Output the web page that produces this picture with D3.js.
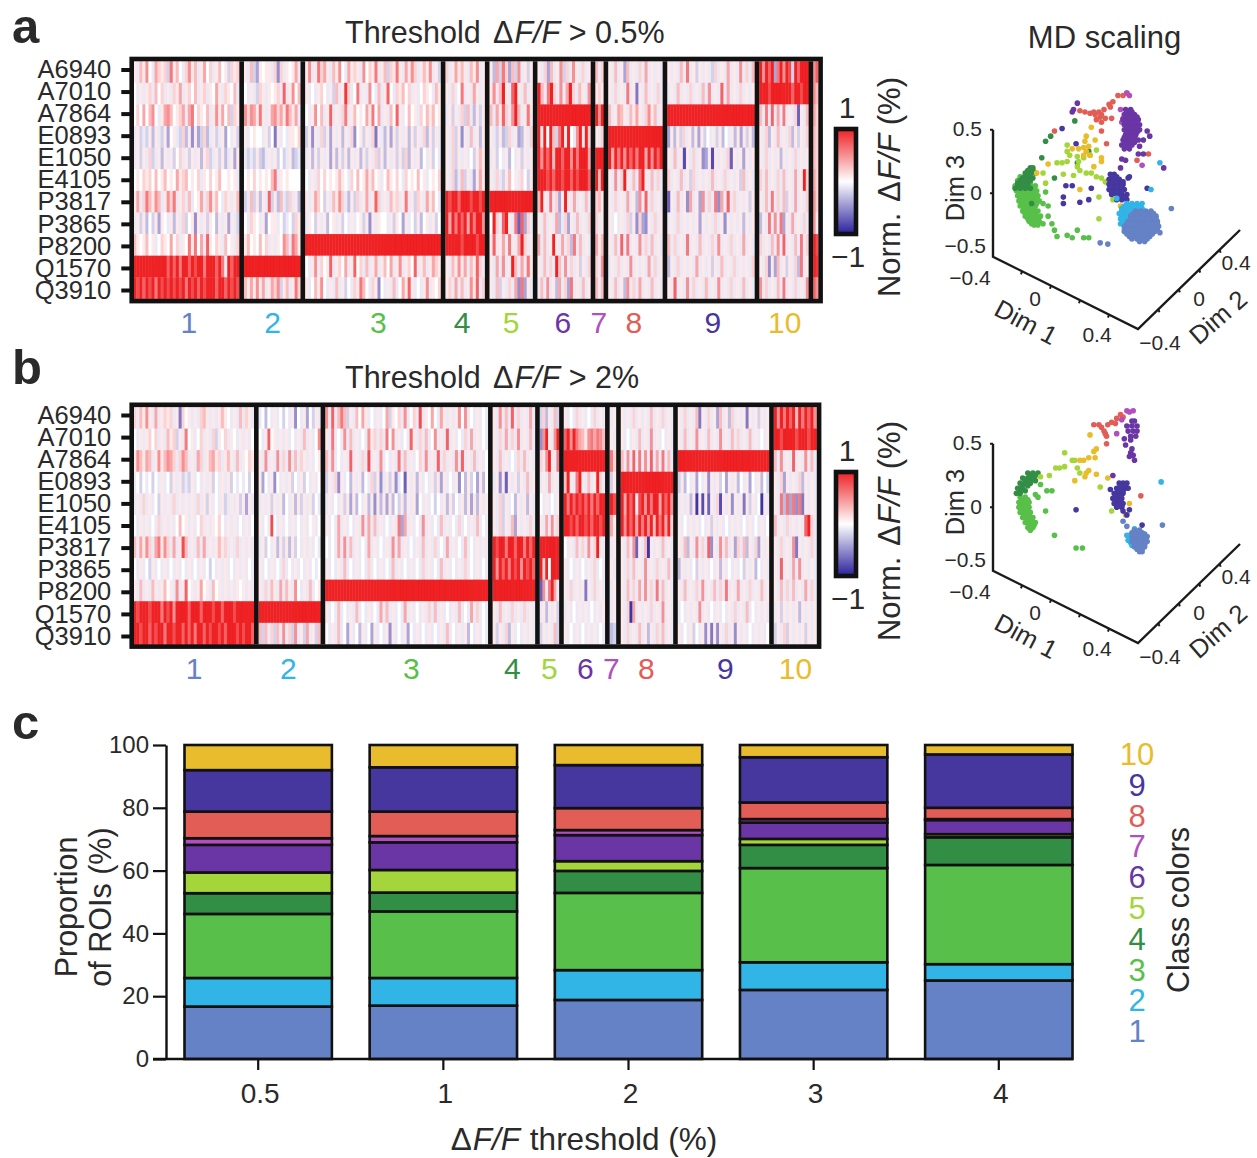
<!DOCTYPE html>
<html>
<head>
<meta charset="utf-8">
<script src="https://cdn.jsdelivr.net/npm/d3@7"></script>
<style>
  html, body { margin: 0; padding: 0; background: #fff; }
  svg { display: block; }
  text { font-family: "Liberation Sans", Arial, sans-serif; fill: #2a2a2a; }
</style>
</head>
<body>
<div id="wrapper"></div>
<script>
const rowLabels = ["A6940", "A7010", "A7864", "E0893", "E1050", "E4105", "P3817", "P3865", "P8200", "Q1570", "Q3910"]
const classNames = ["1", "2", "3", "4", "5", "6", "7", "8", "9", "10"]
const classColors = ["#6582c6", "#30b5e6", "#58c04a", "#328e45", "#a4d53a", "#6a35a4", "#b050c0", "#e25d56", "#46379f", "#e8bc2c"]

// heat cells, one string per row: 1-9 and R = +0.1..+1, a-i = -0.1..-0.9, 0 = white
const classWidthsA = [35.4, 18.9, 45.3, 13.2, 14.5, 17.8, 2.8, 18.2, 29.2, 16.5, 1.6]
const classWidthsB = [40.25, 20.7, 54.3, 14.2, 6.5, 13.8, 2.2, 17.5, 30.5, 14.25]

const heatA = [
  ["1a3150a4212b6130a2513a1402a1301b212", "0a1a12a302a1a214a1203a12a1041a2103a", "02040350a14530124a4602103a151403b21", "a1bab1c1ab1d01ab2c1e1db2ca1ba1d0a1b", "a1b1a2ba1c1a1b02a1b1a1c12ba1b1ca1d1", "0102120301301041230102a10201300101a", "14a263153a1526a12a3a014a25130a21a13", "a1b1c0b1d10a1c1a2b01e1a1b10c1a1d1ab", "3101301a0210402a1061604a71021a301a2", "RRRRRRRRRRR7R7R6RR7R8RR6RRR7R6aR7RR", "R8R7R8R6R8R8R8R8R6R8R7R8RRR7RR7R8R8"],
  ["1a3bd1011a2e2a1014a", "0a1ab21a1012a7a1503", "5254161a1452416314a", "1a0100a1b0f1a0a1102", "abab1bca1a1b0ba1cba", "01020101036a1010000", "ba3b1c1a7b1c3ab2a1c", "0a210a1d011a0ba0b21", "13010302a1a1053a641", "RRRRRRRRRRRRRRRRRRR", "3141514a1425b13a162"],
  ["15a16241a3150a4121a50216a13b2161a4152a1315a1b", "1a0a120a1b3a192a06a1a50a3a170a21302a1a0210a31", "0a1503a17a1a26a1301041604a1a3071a0301a2031301", "b1e1a2b1d1a1c1a2e01b1a2f1ac1d1b1a1c1b1a2c1b1a", "a1c1b1a1d1c1b1c1a1c1b1a2b1c1a1b1b2c1a1c0a1b0a", "0a1a2020101310a2030141301a031020a2010301a0102", "1a1420b1a3152ac1b2a14a172a1a312a16a1b21a4130a", "a10b1a1c01a1b0a1a01b1e1a100a1b10d1a0b1c01a1b0", "RRRRRRRRRRRRRRRRRRRRRRRRRRRRRRRRRRRRRRRRRRRRR", "0a15a2017a1204a1702a3a14a1304a15a1207a13a1421", "1a03150a1a3a1b0a21630a21e0a1a3a04171a0a15a102"],
  ["2a14131a315a1", "1a2a06a1a41a1", "a1b1a2b3ac1b1", "1a2b1e1a3a1c1", "1a2b1a1a0b131", "1a2ca3b1ad141", "R8RR7RRR8RR8R", "R4R6R7R4R6RR5", "RRRRR8RRRR8RR", "1a31514a3172a", "12a4a3a1517a2"],
  ["1c4b62d3b5a1b1", "15a3R1a7R1a3a1", "3a4172a5R3a161", "1ab1cb2a1dc1a2", "a1b0a1c0a1b1a1", "1a2ab1301a20b1", "RRRRRRRRRRRRRR", "0R2a7R1a6g7d2a", "17a14a61a4R2a1", "1a4a5a1R3a4a61", "1a3b1a2a4e6d1a"],
  ["1a2d3a15b2a51a2a1", "R3a6R2a5a4R2a31a5", "RRRRRRRRRRRRRRRRRR", "R1R0R3b6R1R0a5R1R2", "R5R7R3RR7RR5R6RRR4", "RRR8R7RR8RR7R8RRR7", "3R1a6a2d1R1a4a1a3a", "1a3a1a4ca2d1a3a1a2", "4a3a1R1a4a2c6a3a1a", "1a3a2aR3a5a2a1b1a2", "a3a5a1c4a2d6a1a3a1"],
  ["3a2", "121", "R5R", "1a2", "RRR", "R3R", "231", "2a1", "413", "2a5", "3a3"],
  ["1a3a1d3a1a2a4a1a1a", "1a2a1a6a1f1a3a1a2a", "3a1431a3141a2513a1", "RRRRRRRRRRRRRRRRRR", "R4R6R5R7R6RR4R5R7R", "1a5a2R1a3a6R1a3a2a", "1a2a1a4a1c5a7a2a1a", "1a0a1a2b1e2de1a2a1", "1a3a7a6a1a5a2a3a1a", "a1a2a1a5a1a1a4a2a1", "1a3a1c5a2a4a1a3a1a"],
  ["1a1a3a6a1b1a1ab2a1a4a1a5a2a3", "a1a3a1a2a1a3a5a1a7a4a1a2a1a1", "RRRRRRRRRRRRRRRRRRRRRRRRRRRRR", "d1c1b2a1c1d1b0a1b1c0a1c1d1b1c", "1a3a1h1a2a1ed1h1a1a2g1a1d1a1", "2a1a3a1b2a1a1a3a1a2a1a1b3a1a", "g1a3a1e4a1d5a2a6e4a7a2a1a1b1", "a1a2a1a1a1d1a1a2a1e1a1a1c1a1", "3a2a1a6a1a3a1a2a5a1a2a1a4a1a", "c1a2a1a1a4a1a1b1a3a1a2a1a1a2", "1a7a1a5a2a1a3a1a5a1a2a1a3a1a"],
  ["R5R7Rd6R5R8bR7RRR", "RRR8RRRRRRR7RR8RR", "3a6a7a4a6a1a2g1a3", "1a2c1a3a1a2c1b1a2", "1a2a1a1c1a1a2a1a1", "2a3a1a2a3a1a4a1R2", "1a3a6a2a3b1a4a1a2", "c1a6a5a6d1a4a1a2a", "2a1a3a5a7a1a3a6a2", "1a2e1d3a1b1a2c6a1", "5a2a1a3a6a1a2a1a5"],
  ["57", "53", "42", "32", "32", "42", "52", "51", "R8", "R9", "75"],
]

const heatB = [
  ["2a3151a4a1212a1f201a1a231a1a1310a1a3a21a", "0a1a1202a1a312b1a601a02a1a2b102a10a1a1a0", "153143a1513542a253a1a42a13412a131a3a1021", "a0b0a0b0a1a0b1a1bab1a0a1a1b0a1a1b0a0a0b0", "a1a2a1a0b1a1a2a1a1a1a2a1b1a0a1ba1a1b1d1a", "0a1a1a0a2a1a1a0301a1a02a1a1020a1a1a0a1a0", "3a4152a46152a4a183a1a3a4a1a1312a1a2a1a1a", "0a1a0b1a0a1a0a1a0a1a0a1a0b0a1a1a0a1a1a0a", "1a3a1a31a1301a5a1701a1401a301a1a1a101a1a", "R8RRR8RRR6R8R5RRRR7RRR7RRR8RR7RRR8RRRRRR", "RR8RR7R8RR6RR8RR7R7R6RR7R8RR8R7RRR8R8RR7"],
  ["a0c0a1a0b0a1e0a1d0b1a", "0a1701a1a1a0a1a3a1a05", "1a5a1a5a2a5a3a21a1a01", "1d0a1e0a1a1b0a1b0a1a0", "a1a1b1a1c0a1c1b1a1b0a", "1a0a80a1a0a1a0a1a01a0", "a1b0a1c1b1c1b0a1a1a0a", "1a0a1a0a2a0a1a0a1a0a0", "1a2a31a4a31a50a1a3a01", "RRRRRRRRRRRRRRRRRRRRR", "3b3a2b3a5a2b5a1b4a1b3"],
  ["5a7a363b1a3041a0a1a04b102a5a02a8a1040a41a1a1505a0a1a0a", "1a6a0a5a3a1a0a512a2a605a1a0a71a2a3a05a1a7a1a0a2a4a1a0a", "3a5a0a1a7a1a2a8a1a5a0a1a6a3a1a02a5a1a7a2a1a5a7a1a3a1a0", "b1a2e1a0c1a1c0a2b1ea1b1ea0g1a1c1a0a1b1d1a0a1e0c1b0d1c0", "a1a0a1b1d1c0a1c1e1c1d1c0b1c1a1d0a1a0b0a1c1b0a1c1d1c1a1", "1a0a4a1a0a1a5a4a3a1a0a1a6d4a1a0a5a1a0a3a1a0a2a0a1a3a0a", "0a0a4a5a3a1a0a4a1a0a1a5a4a1a0a1a3a1a2a0a4a1a0a3a0a1a1a", "1a0a1a3a0a1a0a2a0a1a0a3a1a0a1a0a2a1a0a3a1a0a1a2a0a1a0a", "RRRRRRRRRRRRRRRRRRRRRRRRRRRRRRRRRRRRRRRRRRRRRRRRRRRRRR", "1a0a3a0a1a3a0a1a0a4a3a1a0a4a1a0a1a2a3a1a0a1a3a0a4a2a0a", "0a1a3a0d1a0c1a0d1a0a1e1a0a1d0a1a0a1a0a1a3a0a1a1c0a1a0a"],
  ["1a5a3a7a2a1a4a", "1a2a4a2a5a1a3a", "1a3a1a0a2a3a1a", "a1e1g1a1b1a3a1", "1a2b1a0c1a1c1a", "1a2b1a3d1a1a2a", "R8RR6RR7RR6R7R", "R5R7R6R8R5R8R7", "RRRRRRRRRRRRRR", "1a3a1a2a1a2a1a", "1b1a2c1a0a1a1a"],
  ["b2c1a3b", "e5R1a5R", "2a5R1a6", "a1a4a1a", "0a1a0a1", "1a4a5a2", "RRRRRRR", "R2R0RRR", "g5a6R4a", "a1c1a1b", "b1a1a3b"],
  ["1a0a2a1a0a2a1a", "7R5R6431564653", "RRRRRRRRRRRRRR", "3R1a6R1a3a1R2a", "R6R7R8R7R6R7RR", "RR8R7RR8R7RR8R", "0a1a3a2a5a2R1a", "1a0a1a0a1a2a0a", "1a2a1a1f1a2a1a", "a1a0a1a1a0a1a1", "1a0a1a0a1a1a0a"],
  ["a1", "1a", "62", "b1", "R8", "41", "a1", "1a", "a1", "a1", "cb"],
  ["1a1a2a1a1a3a1a2a1a", "1a0a1a3a1a5a1a0a1a", "3a5a7a6a5a7a4a6a3a", "RRRRRRRRRRRRRRRRRR", "R4R7Ra8R5R6RR4R7R5", "R5R7R4R6R5R3R6R4R2", "1a3a5g1a3i1a1a3a1a", "1a2a3a1a5a1a2a1a3a", "1a3a2a4a5a2a6a3a1a", "1a2i4a1a1a2a1a5a1a", "1a2a1a3a1c1a2a3a1a"],
  ["1a2a1a3f1a2a1d3a1c2a1a1f1a1b1a1", "1a3a1a5a1a3a1a5a1a3a2a1a3a1a0a1", "RRRRRRRRRRRRRRRRRRRRRRRRRRRRRRR", "b1c0a1d0a1e1a1b0d1a1c0a1d0a1c0b", "a1a1c1i1h1g1a2h1a1e1a1f1b1a0i1a", "1a0a1a1a0a1b1a1a0a1a1a0a1a0a1a0", "1a3c1a5a2a7e1a5a3a1d2a3c1a2d1a1", "c1a1a0b1a1a0a1c1a0a1a0b1a1c0a1a", "1a3a1a2a5a1a3a2a6a1a4a1a2a1a3a1", "a0a1a1a5a1a0a1a0a1a2a1a3a0a1a1a", "1a0a1b0a1e1f1e1a2a1e1a1a0a1a1a0"],
  ["R5R6R7R3R6R7R5", "RR8RRRR8RRR8RR", "3a5a1a7a1a5a3a", "1a2d1a1a2c1a1a", "1a6c6d6e6f1a1a", "3a1a2a1a1a7R2a", "1a2a1a5f1a1a2a", "1a7a1a4a5a1a1a", "1a3a2a3a1a4a2a", "a1b1a1a1c1a1a1", "b1a2b1a1a1b1a1"],
]

// class label centres, in heat columns from the left edge
const labelColsA = [18.5, 46.5, 81.7, 109.7, 126, 143.3, 155.3, 167, 193.3, 217.3]
const labelColsB = [20.3, 51.7, 92.7, 126.3, 138.7, 150.7, 159.3, 171, 197.3, 220.7]

// MD scaling points: [horizontal, Dim 3]
const mdsA = [
  [[.15,-.14],[.19,-.14],[.23,-.14],[.27,-.14],[.11,-.18],[.15,-.18],[.19,-.18],[.23,-.18],[.27,-.18],[.31,-.18],[.09,-.22],[.13,-.22],[.17,-.22],[.21,-.22],[.25,-.22],[.29,-.22],[.32,-.22],[.06,-.26],[.10,-.26],[.14,-.26],[.18,-.26],[.22,-.26],[.26,-.26],[.30,-.26],[.33,-.26],[.06,-.30],[.10,-.30],[.14,-.30],[.18,-.30],[.22,-.30],[.26,-.30],[.30,-.30],[.10,-.34],[.14,-.34],[.18,-.34],[.22,-.34],[.26,-.34],[.18,-.38],[.22,-.38],[.34,-.31],[.43,-.12],[-.13,-.39],[-.07,-.40],
   [.13,-.16],[.17,-.16],[.21,-.16],[.25,-.16],[.29,-.16],[.11,-.20],[.15,-.20],[.19,-.20],[.23,-.20],[.27,-.20],[.31,-.20],[.08,-.24],[.12,-.24],[.16,-.24],[.20,-.24],[.24,-.24],[.28,-.24],[.32,-.24],[.08,-.28],[.12,-.28],[.16,-.28],[.20,-.28],[.24,-.28],[.28,-.28],[.32,-.28],[.08,-.32],[.12,-.32],[.16,-.32],[.20,-.32],[.24,-.32],[.28,-.32],[.12,-.36],[.16,-.36],[.20,-.36],[.24,-.36]],
  [[.08,-.08],[.12,-.08],[.16,-.08],[.20,-.08],[.04,-.12],[.08,-.12],[.12,-.12],[.16,-.12],[.20,-.12],[.02,-.16],[.06,-.16],[.10,-.16],[.14,-.16],[.03,-.20],[.07,-.20],[.11,-.20],[.03,-.24],[.07,-.24],[.11,-.24],[.06,-.28],[.10,-.28],[.34,.24],[.27,.03],[0,-.04],
   [.06,-.10],[.10,-.10],[.14,-.10],[.18,-.10],[.04,-.14],[.08,-.14],[.12,-.14],[.16,-.14],[.04,-.18],[.08,-.18],[.12,-.18],[.05,-.22],[.09,-.22]],
  [[-.78,.10],[-.74,.10],[-.70,.10],[-.80,.06],[-.76,.06],[-.72,.06],[-.68,.06],[-.64,.06],[-.79,.02],[-.75,.02],[-.71,.02],[-.67,.02],[-.63,.02],[-.78,-.02],[-.74,-.02],[-.70,-.02],[-.66,-.02],[-.62,-.02],[-.77,-.06],[-.73,-.06],[-.69,-.06],[-.65,-.06],[-.61,-.06],[-.76,-.10],[-.72,-.10],[-.68,-.10],[-.64,-.10],[-.74,-.14],[-.70,-.14],[-.66,-.14],[-.62,-.14],[-.72,-.18],[-.68,-.18],[-.64,-.18],[-.60,-.18],[-.69,-.22],[-.65,-.22],[-.61,-.22],[-.65,-.25],[-.62,-.25],[-.58,-.08],[-.54,-.10],[-.56,.01],[-.54,-.18],[-.51,-.24],[-.49,-.29],[-.47,-.34],[-.39,-.33],[-.31,-.29],[-.35,-.35],[-.26,-.35],[-.22,-.35],[-.58,-.24],
   [-.76,.13],[-.72,.13],[-.76,.08],[-.72,.08],[-.68,.08],[-.78,.04],[-.74,.04],[-.70,.04],[-.66,.04],[-.77,0],[-.73,0],[-.69,0],[-.65,0],[-.76,-.04],[-.72,-.04],[-.68,-.04],[-.64,-.04],[-.75,-.08],[-.71,-.08],[-.67,-.08],[-.63,-.08],[-.73,-.12],[-.69,-.12],[-.65,-.12],[-.72,-.16],[-.68,-.16],[-.64,-.16],[-.70,-.20],[-.66,-.20],[-.62,-.20],[-.67,-.24],[-.63,-.24]],
  [[-.68,.20],[-.66,.20],[-.72,.16],[-.68,.16],[-.64,.16],[-.74,.12],[-.70,.12],[-.66,.12],[-.78,.08],[-.74,.08],[-.70,.08],[-.80,.04],[-.76,.04],[-.72,.04],[-.68,.04],[-.67,-.08],[-.59,.28],[-.49,.12],[-.56,.41],[-.52,.45],[-.22,.33],[-.31,.24],[-.33,.57],
   [-.70,.18],[-.66,.18],[-.72,.14],[-.68,.14],[-.76,.10],[-.72,.10],[-.68,.10],[-.78,.06],[-.74,.06],[-.70,.06]],
  [[-.39,.33],[-.37,.30],[-.47,.24],[-.43,.24],[-.39,.25],[-.31,.29],[-.26,.28],[-.21,.30],[-.16,.34],[-.31,.21],[-.34,.14],[-.29,.18],[-.30,.25],[-.24,.16],[-.20,.16],[-.16,.13],[-.12,.12],[-.09,.09],[-.58,.16],[-.56,.08],[-.42,.15],[-.14,-.03],[-.14,-.20],[-.39,.38],[0,.01],[-.03,-.05],[.03,0]],
  [[.07,.66],[.11,.66],[.06,.62],[.10,.62],[.14,.62],[.05,.58],[.09,.58],[.13,.58],[.17,.58],[.06,.54],[.10,.54],[.14,.54],[.18,.54],[.06,.50],[.10,.50],[.14,.50],[.18,.50],[.07,.46],[.11,.46],[.15,.46],[.05,.42],[.09,.42],[.13,.42],[.17,.42],[.04,.38],[.08,.38],[.12,.38],[.06,.35],[.10,.35],[-.31,.71],[-.34,.66],[-.35,.64],[.24,.49],[.26,.45],[.21,.42],[.17,.31],[.21,.31],[.37,.20],[.18,.37],[.04,.27],[.07,.26],[.03,.20],
   [.08,.64],[.12,.64],[.08,.60],[.12,.60],[.16,.60],[.07,.56],[.11,.56],[.15,.56],[.08,.52],[.12,.52],[.16,.52],[.08,.48],[.12,.48],[.16,.48],[.06,.44],[.10,.44],[.14,.44],[.06,.40],[.10,.40],[.14,.40]],
  [[.03,.66],[.05,.59],[.13,.54],[.16,.49],[.08,.79],[.10,.77],[.20,.22],[.04,.56]],
  [[-.29,.65],[-.25,.64],[-.21,.63],[-.17,.62],[-.13,.60],[-.18,.64],[-.14,.64],[-.10,.66],[-.06,.70],[-.03,.72],[.01,.77],[.05,.77],[.08,.79],[-.16,.58],[-.12,.56],[-.09,.59],[-.05,.68],[-.12,.62],[-.49,.49],[-.08,.39],[.16,.26],[.25,.31],[-.12,.49],[-.04,.59]],
  [[-.05,.15],[-.02,.15],[-.06,.11],[-.02,.11],[.02,.11],[-.06,.07],[-.02,.07],[.02,.07],[.05,.07],[-.06,.03],[-.02,.03],[.02,.03],[.06,.03],[-.04,-.01],[0,-.01],[.04,-.01],[.08,-.01],[0,-.05],[.04,-.05],[.08,-.05],[-.42,-.03],[-.42,-.08],[-.40,.06],[-.35,.06],[-.29,-.07],[-.22,-.05],[-.20,.04],[.09,.12],[.24,.04],[.05,.09],[.10,.13],[.05,-.12],[-.43,.51],[-.32,.39],
   [-.04,.13],[0,.13],[-.04,.09],[0,.09],[.04,.09],[-.04,.05],[0,.05],[.04,.05],[-.04,.01],[0,.01],[.04,.01],[.02,-.03],[.06,-.03]],
  [[-.24,.45],[-.25,.41],[-.26,.36],[-.30,.35],[-.35,.35],[-.24,.33],[-.21,.30],[-.26,.30],[-.54,.23],[-.12,.25],[-.17,.42],[-.20,.52],[-.63,.16],[-.29,.03],[-.18,.21],[-.12,.28],[.03,-.10],[-.22,.37]],
]
const mdsB = [
  [[.12,-.20],[.16,-.20],[.20,-.20],[.12,-.23],[.16,-.23],[.20,-.23],[.24,-.23],[.12,-.27],[.16,-.27],[.20,-.27],[.24,-.27],[.14,-.31],[.18,-.31],[.22,-.31],[.18,-.35],[.20,-.35],[.05,-.11],[.08,-.15],[.36,-.14],
   [.14,-.18],[.18,-.18],[.14,-.21],[.18,-.21],[.22,-.21],[.14,-.25],[.18,-.25],[.22,-.25],[.14,-.29],[.18,-.29],[.22,-.29],[.16,-.33],[.20,-.33]],
  [[.14,-.17],[.10,-.22],[.14,-.22],[.10,-.26],[.13,-.26],[.12,-.30],[.15,-.30],[.35,.20],[.09,-.26],[.12,-.24],[.11,-.28],[.08,-.22]],
  [[-.76,.08],[-.72,.08],[-.77,.04],[-.73,.04],[-.69,.04],[-.77,0],[-.73,0],[-.69,0],[-.76,-.04],[-.72,-.04],[-.68,-.04],[-.74,-.08],[-.70,-.08],[-.66,-.08],[-.72,-.12],[-.68,-.12],[-.64,-.12],[-.70,-.16],[-.66,-.16],[-.68,-.18],[-.76,.14],[-.75,.18],[-.64,.10],[-.62,.08],[-.55,.13],[-.51,.13],[-.56,-.03],[-.49,-.22],[-.32,-.32],[-.27,-.32],[-.60,.18],
   [-.74,.06],[-.70,.06],[-.75,.02],[-.71,.02],[-.74,-.02],[-.70,-.02],[-.73,-.06],[-.69,-.06],[-.71,-.10],[-.67,-.10],[-.69,-.14],[-.65,-.14]],
  [[-.70,.27],[-.66,.27],[-.62,.27],[-.74,.23],[-.70,.23],[-.66,.23],[-.76,.19],[-.72,.19],[-.68,.19],[-.78,.15],[-.74,.15],[-.79,.11],[-.76,.11],
   [-.68,.25],[-.64,.25],[-.72,.21],[-.68,.21],[-.64,.21],[-.74,.17],[-.70,.17],[-.76,.13],[-.72,.13]],
  [[-.48,.31],[-.45,.31],[-.41,.32],[-.41,.43],[-.35,.37],[-.33,.37],[-.31,.31],[-.29,.27],[-.60,.24],[-.53,.25],[-.13,.16],[-.04,-.03]],
  [[.12,.68],[.14,.68],[.08,.64],[.12,.64],[.16,.64],[.09,.60],[.13,.60],[.16,.60],[.11,.56],[.15,.56],[.06,.54],[.11,.53],[.07,.49],[.12,.46],[.11,.43],[.13,.41],[.10,.40],[.14,.37],[-.03,.25]],
  [[.08,.76],[.13,.76],[.10,.75],[0,.58],[.04,.69]],
  [[-.18,.65],[-.14,.65],[-.12,.63],[-.09,.58],[-.07,.65],[-.04,.67],[0,.70],[.03,.73],[-.08,.56],[-.01,.66],[-.10,.60],[-.08,.50],[.19,.09],[.05,.71]],
  [[.02,.19],[.05,.19],[.08,.19],[0,.15],[.04,.15],[.07,.15],[.09,.15],[-.02,.11],[.02,.11],[.05,.11],[-.03,.07],[.01,.07],[.04,.07],[-.02,.03],[.02,.03],[.05,.03],[0,0],[.04,0],[-.32,-.02],[.05,-.03],[.10,-.02],[.08,-.06],[.20,-.14],[-.05,.14],
   [.03,.17],[.06,.17],[.01,.13],[.05,.13],[-.01,.09],[.03,.09],[-.01,.05],[.03,.05],[.01,.01],[.04,.01]],
  [[-.26,.37],[-.22,.39],[-.18,.44],[-.16,.46],[-.17,.39],[-.24,.27],[-.25,.24],[-.22,.29],[-.33,.21],[-.21,.57],[-.16,.26],[-.07,.23],[.10,.03],[.07,-.06],[-.29,.37]],
]
const mdsDrawOrder = [2, 3, 4, 9, 8, 7, 6, 5, 1, 0]

// stacked proportions per threshold, one array per class
const thresholds = ["0.5", "1", "2", "3", "4"]
const class1 = [16.7, 17, 18.8, 22, 25]
const class2 = [9.1, 8.8, 9.5, 8.8, 5.2]
const class3 = [20.4, 21.2, 24.6, 30, 31.6]
const class4 = [6.6, 6, 7, 7.4, 8.8]
const class5 = [6.6, 7.2, 3.1, 1.9, 1]
const class6 = [8.8, 8.8, 8.3, 5.2, 4.5]
const class7 = [2.1, 2, 1.6, 1.1, 0.3]
const class8 = [8.5, 7.8, 7, 5.3, 3.6]
const class9 = [13.2, 14.1, 13.7, 14.4, 17]
const class10 = [8, 7.1, 6.4, 3.9, 3]
const classSeries = [class1, class2, class3, class4, class5, class6, class7, class8, class9, class10]

const width = 1257
const height = 1158
const ink = "#111"

const wrapper = d3.select("#wrapper")
  .append("svg")
  .attr("width", width)
  .attr("height", height)

const defs = wrapper.append("defs")
defs.append("filter").attr("id", "soft")
  .append("feGaussianBlur").attr("stdDeviation", 0.45)

const heatColor = d3.scaleLinear()
  .domain([-1, 0, 1])
  .range(["#2a1f9c", "#ffffff", "#ee2024"])

const gradient = defs.append("linearGradient")
  .attr("id", "bar-gradient")
  .attr("x1", 0).attr("x2", 0).attr("y1", 1).attr("y2", 0)
gradient.selectAll("stop")
  .data(heatColor.domain())
  .join("stop")
  .attr("offset", (d, i) => `${i * 50}%`)
  .attr("stop-color", d => heatColor(d))

function cellValue(ch) {
  if (ch === "R") return 1
  if (ch >= "a" && ch <= "i") return -(ch.charCodeAt(0) - 96) / 10
  return +ch / 10
}

// appends "ΔF/F" with the italic F's into a text selection
function addDeltaF(text, gapBefore) {
  text.append("tspan").attr("dx", gapBefore).text("Δ")
  text.append("tspan").attr("font-style", "italic").attr("dx", 1).text("F/F")
}

function drawHeat(o) {
  const g = wrapper.append("g")
  const gap = 1.5
  const total = d3.sum(o.widths) + gap * (o.widths.length - 1)
  const x = d3.scaleLinear().domain([0, total]).range([o.left, o.right])
  const y = d3.scaleBand().domain(rowLabels).range([o.top, o.bottom])

  let start = 0
  const cells = g.append("g").attr("filter", "url(#soft)")
  o.heat.forEach((rows, c) => {
    const end = start + o.widths[c]
    rows.forEach((row, r) => {
      const col = d3.scaleBand()
        .domain(d3.range(row.length))
        .range([x(start), x(end)])
      cells.append("g")
        .selectAll("rect")
        .data(row.split(""))
        .join("rect")
        .attr("x", (d, i) => col(i))
        .attr("y", y(rowLabels[r]))
        .attr("width", col.bandwidth() + 0.4)
        .attr("height", y.bandwidth() + 0.4)
        .attr("fill", d => heatColor(cellValue(d)))
    })
    if (c < o.heat.length - 1) {
      g.append("line")
        .attr("x1", x(end + gap / 2))
        .attr("x2", x(end + gap / 2))
        .attr("y1", o.top)
        .attr("y2", o.bottom)
        .attr("stroke", ink)
        .attr("stroke-width", 4.6)
    }
    start = end + gap
  })

  g.append("rect")
    .attr("x", o.left - 1.6)
    .attr("y", o.top - 2.2)
    .attr("width", o.right - o.left + 4.2)
    .attr("height", o.bottom - o.top + 4.4)
    .attr("fill", "none")
    .attr("stroke", ink)
    .attr("stroke-width", 4.6)

  // the row ticks run a little wider than the rows in the original
  const tickY = d3.scalePoint().domain(rowLabels).range([o.tickTop, o.tickBottom])
  const yAxis = g.append("g")
    .attr("transform", `translate(${o.left - 3},0)`)
    .call(d3.axisLeft(tickY).tickSize(9).tickPadding(10))
  yAxis.select(".domain").remove()
  yAxis.selectAll("line").attr("stroke", ink).attr("stroke-width", 4)
  yAxis.selectAll("text").attr("font-size", 25.5).style("fill", "#2a2a2a")

  // class numbers
  g.selectAll(".class-label")
    .data(o.labelCols)
    .join("text")
    .attr("class", "class-label")
    .attr("x", d => x(d))
    .attr("y", o.labelY)
    .attr("text-anchor", "middle")
    .attr("dominant-baseline", "central")
    .attr("font-size", 30)
    .style("fill", (d, i) => classColors[i])
    .text((d, i) => classNames[i])

  // title
  const title = g.append("text")
    .attr("x", 345)
    .attr("y", o.titleY)
    .attr("font-size", 30.5)
    .attr("dominant-baseline", "central")
  title.append("tspan").text("Threshold ")
  addDeltaF(title, 4)
  title.append("tspan").text(` > ${o.threshold}%`)

  // panel letter
  g.append("text")
    .attr("x", 12)
    .attr("y", o.letterY)
    .attr("font-size", 49)
    .attr("font-weight", "bold")
    .text(o.letter)

  // colour bar
  const bar = d3.scaleLinear().domain([-1, 1]).range([o.barBottom, o.barTop])
  g.append("rect")
    .attr("x", 836)
    .attr("y", bar(1))
    .attr("width", 20)
    .attr("height", bar(-1) - bar(1))
    .attr("fill", "url(#bar-gradient)")
    .attr("stroke", ink)
    .attr("stroke-width", 4.6)
  g.selectAll(".bar-label")
    .data(bar.domain())
    .join("text")
    .attr("class", "bar-label")
    .attr("x", d => d > 0 ? 847 : 848)
    .attr("y", d => bar(d) + (d > 0 ? -22 : 22))
    .attr("text-anchor", "middle")
    .attr("dominant-baseline", "central")
    .attr("font-size", 30)
    .text(d => d > 0 ? "1" : "−1")

  const barTitle = g.append("text")
    .attr("transform", `translate(889,${o.barTitleY}) rotate(-90)`)
    .attr("text-anchor", "middle")
    .attr("dominant-baseline", "central")
    .attr("font-size", 31)
  barTitle.append("tspan").text("Norm. ")
  addDeltaF(barTitle, 2)
  barTitle.append("tspan").text(" (%)")
}

drawHeat({
  heat: heatA, widths: classWidthsA, labelCols: labelColsA,
  left: 133.3, right: 818, top: 61.2, bottom: 298.9,
  tickTop: 69.5, tickBottom: 290,
  labelY: 322, titleY: 32, threshold: "0.5", letter: "a", letterY: 43,
  barTop: 129, barBottom: 234, barTitleY: 187,
})
drawHeat({
  heat: heatB, widths: classWidthsB, labelCols: labelColsB,
  left: 133.3, right: 816.5, top: 407, bottom: 644.4,
  tickTop: 415, tickBottom: 636,
  labelY: 668, titleY: 377, threshold: "2", letter: "b", letterY: 384,
  barTop: 472, barBottom: 576, barTitleY: 531,
})

// MD scaling

wrapper.append("text")
  .attr("x", 1104.5)
  .attr("y", 37)
  .attr("text-anchor", "middle")
  .attr("dominant-baseline", "central")
  .attr("font-size", 31)
  .text("MD scaling")

function drawMds(points, dy) {
  const g = wrapper.append("g").attr("transform", `translate(0,${dy})`)
  const sx = d3.scaleLinear().domain([-.5, .5]).range([1053.2, 1180.2])
  const sy = d3.scaleLinear().domain([-.5, .5]).range([256.8, 129.8])

  mdsDrawOrder.forEach(c => {
    g.append("g")
      .attr("fill", classColors[c])
      .attr("filter", "url(#soft)")
      .selectAll("circle")
      .data(points[c])
      .join("circle")
      .attr("cx", d => sx(d[0]))
      .attr("cy", d => sy(d[1]))
      .attr("r", 2.8)
  })

  const axisTicks = [-.4, -.2, 0, .2, .4, .6]
  const dim1x = d3.scaleLinear().domain([-.4, .6]).range([993, 1138])
  const dim1y = d3.scaleLinear().domain([-.4, .6]).range([257, 329])
  const dim2x = d3.scaleLinear().domain([-.4, .6]).range([1138, 1240])
  const dim2y = d3.scaleLinear().domain([-.4, .6]).range([329, 230])

  const axes = g.append("g").attr("stroke", "#1a1a1a").attr("fill", "none")
  axes.append("path")
    .attr("stroke-width", 2.4)
    .attr("d", `M${sx(-.5) - 60.2},${sy(.5)}V${sy(-.5)}L${dim1x(.6)},${dim1y(.6)}L${dim2x(.6)},${dim2y(.6)}`)
  axes.append("path")
    .attr("stroke-width", 2)
    .attr("d", `M${sx(-.5) - 60.2},${sy(.5)}h-3M${sx(-.5) - 60.2},${sy(0)}h-3`)
  axes.selectAll(".tick1")
    .data(axisTicks.slice(1, 5))
    .join("path")
    .attr("class", "tick1")
    .attr("stroke-width", 2)
    .attr("d", d => `M${dim1x(d)},${dim1y(d)}l-1,3`)
  axes.selectAll(".tick2")
    .data(axisTicks.slice(1, 5))
    .join("path")
    .attr("class", "tick2")
    .attr("stroke-width", 2)
    .attr("d", d => `M${dim2x(d)},${dim2y(d)}l1,3`)

  const labels = [
    ["0.5", 982, 128, "end"], ["0", 982, 192, "end"], ["−0.5", 986, 245, "end"],
    ["−0.4", 970, 277, "middle"], ["0", 1035, 298, "middle"], ["0.4", 1097, 334, "middle"],
    ["−0.4", 1160, 342, "middle"], ["0", 1199, 298, "middle"], ["0.4", 1236, 262, "middle"],
  ]
  g.selectAll(".mds-tick")
    .data(labels)
    .join("text")
    .attr("class", "mds-tick")
    .attr("x", d => d[1])
    .attr("y", d => d[2])
    .attr("text-anchor", d => d[3])
    .attr("dominant-baseline", "central")
    .attr("font-size", 21)
    .text(d => d[0])

  const dimTitles = [["Dim 3", 955, 188, -90], ["Dim 1", 1026, 322, 28], ["Dim 2", 1218, 317, -41]]
  g.selectAll(".mds-title")
    .data(dimTitles)
    .join("text")
    .attr("class", "mds-title")
    .attr("transform", d => `translate(${d[1]},${d[2]}) rotate(${d[3]})`)
    .attr("text-anchor", "middle")
    .attr("dominant-baseline", "central")
    .attr("font-size", 25.5)
    .text(d => d[0])
}

drawMds(mdsA, 0)
drawMds(mdsB, 314)

// Stacked bars

const stackRows = thresholds.map((t, i) => {
  const row = { threshold: t }
  classNames.forEach((name, c) => { row[name] = classSeries[c][i] })
  return row
})
const stacked = d3.stack().keys(classNames)(stackRows)

const barX = d3.scaleBand()
  .domain(thresholds)
  .range([184.5, 1072.5])
  .paddingInner(0.204)
const barY = d3.scaleLinear().domain([0, 100]).range([1059, 745])

const barsGroup = wrapper.append("g")
barsGroup.selectAll("g")
  .data(stacked)
  .join("g")
  .attr("fill", (d, i) => classColors[i])
  .selectAll("rect")
  .data(d => d)
  .join("rect")
  .attr("x", d => barX(d.data.threshold))
  .attr("y", d => barY(d[1]))
  .attr("width", barX.bandwidth())
  .attr("height", d => barY(d[0]) - barY(d[1]))
  .attr("stroke", ink)
  .attr("stroke-width", 2.6)

const yAxisC = wrapper.append("g")
  .attr("transform", "translate(166,0)")
  .call(d3.axisLeft(barY).tickValues(d3.range(0, 101, 20)).tickSize(13).tickSizeOuter(0).tickPadding(4))
yAxisC.select(".domain").attr("stroke", ink).attr("stroke-width", 2.4)
yAxisC.selectAll("line").attr("stroke", ink).attr("stroke-width", 2.2)
yAxisC.selectAll("text").attr("font-size", 24).style("fill", "#2a2a2a")

const xAxisC = wrapper.append("g")
  .attr("transform", "translate(0,1059)")
  .call(d3.axisBottom(barX).tickSize(11).tickSizeOuter(0).tickPadding(13))
xAxisC.select(".domain")
  .attr("stroke", ink)
  .attr("stroke-width", 2.4)
  .attr("d", "M153,0H1073")
xAxisC.selectAll("line").attr("stroke", ink).attr("stroke-width", 2.2)
xAxisC.selectAll("text").attr("font-size", 28).attr("dx", 2).style("fill", "#2a2a2a")

wrapper.append("text")
  .attr("x", 12)
  .attr("y", 739)
  .attr("font-size", 49)
  .attr("font-weight", "bold")
  .text("c")

const yTitle = [["Proportion", 66], ["of ROIs (%)", 100]]
wrapper.selectAll(".y-title")
  .data(yTitle)
  .join("text")
  .attr("class", "y-title")
  .attr("transform", d => `translate(${d[1]},907) rotate(-90)`)
  .attr("text-anchor", "middle")
  .attr("dominant-baseline", "central")
  .attr("font-size", 30.5)
  .text(d => d[0])

const xTitle = wrapper.append("text")
  .attr("x", 584)
  .attr("y", 1139)
  .attr("text-anchor", "middle")
  .attr("dominant-baseline", "central")
  .attr("font-size", 31.5)
addDeltaF(xTitle, 0)
xTitle.append("tspan").attr("dx", 1).text(" threshold (%)")

// class colour key
const keyY = d3.scaleBand()
  .domain(classNames.slice().reverse())
  .range([739, 1047])
wrapper.selectAll(".key")
  .data(classNames)
  .join("text")
  .attr("class", "key")
  .attr("x", 1137)
  .attr("y", d => keyY(d) + keyY.bandwidth() / 2)
  .attr("text-anchor", "middle")
  .attr("dominant-baseline", "central")
  .attr("font-size", 31)
  .style("fill", (d, i) => classColors[i])
  .text(d => d)

wrapper.append("text")
  .attr("transform", "translate(1178,910) rotate(-90)")
  .attr("text-anchor", "middle")
  .attr("dominant-baseline", "central")
  .attr("font-size", 30.5)
  .text("Class colors")
</script>
</body>
</html>
